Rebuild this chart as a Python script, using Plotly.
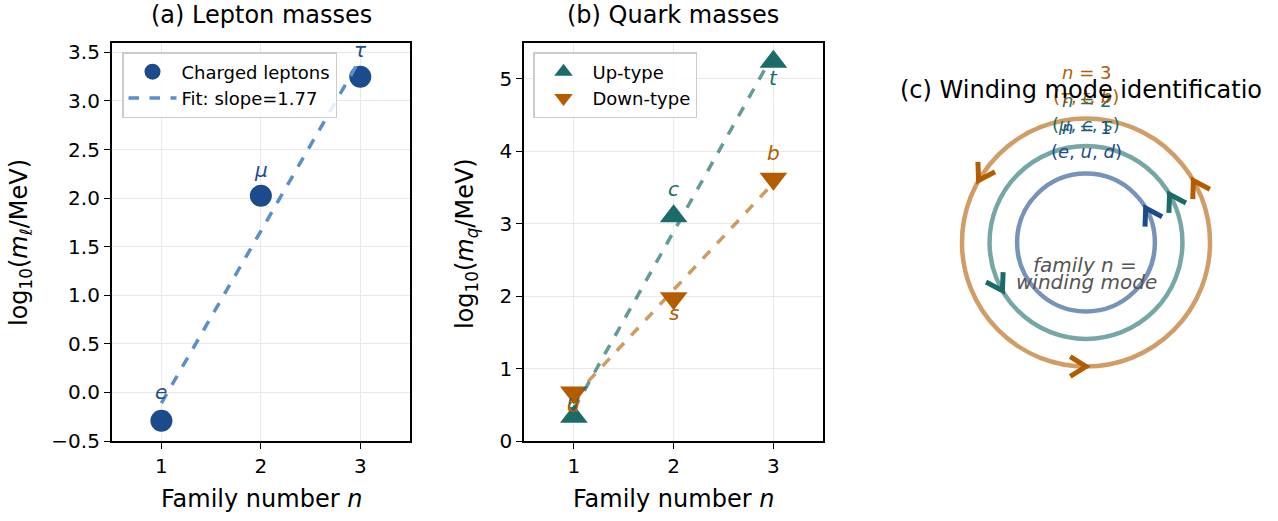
import numpy as np
import plotly.graph_objects as go

W, H = 1278, 521

# ---------------- data ----------------
families = [1, 2, 3]
lepton_log_mass = [-0.291, 2.024, 3.250]
lepton_labels = ["e", "μ", "τ"]
lepton_label_offsets = [0.30, 0.27, 0.27]

up_log_mass = [0.334, 3.104, 5.237]
up_labels = ["u", "c", "t"]
up_label_offsets = [0.20, 0.37, -0.22]

down_log_mass = [0.669, 1.970, 3.621]
down_labels = ["d", "s", "b"]
down_label_offsets = [-0.17, -0.20, 0.36]

winding_numbers = [1, 2, 3]
winding_radii = [1.0, 1.4, 1.8]
winding_particles = ["(<i>e</i>, <i>u</i>, <i>d</i>)",
                     "(<i>μ</i>, <i>c</i>, <i>s</i>)",
                     "(<i>τ</i>, <i>t</i>, <i>b</i>)"]
arrow_start_deg = 30.0

# ---------------- style ----------------
FONT = "DejaVu Sans"
BLUE = "#1c4b8c"
TEAL = "#1b6b69"
ORANGE = "#b35c00"
FIT_BLUE = "#5b8fcc"
FIT_TEAL = "rgba(27,107,105,0.68)"
FIT_ORANGE = "rgba(179,92,0,0.62)"
RING_COLORS = ["rgba(28,75,140,0.6)", "rgba(27,107,105,0.6)", "rgba(179,92,0,0.6)"]
ARROW_COLORS = [BLUE, TEAL, ORANGE]

# panel (c) geometry in pixels
CX, CY = 1086, 242.5
HALF = 150
RANGE_C = 2.177
PX_PER_UNIT = HALF / RANGE_C


def px(x):
    return x / W


def py(y):
    return 1 - y / H


fig = go.Figure()

# ---------------- panel (a) ----------------
fig.add_trace(go.Scatter(
    x=families, y=lepton_log_mass, mode="markers", name="Charged leptons",
    marker=dict(symbol="circle", size=22, color=BLUE),
    xaxis="x", yaxis="y", legend="legend"))
sl, ic = np.polyfit(families, lepton_log_mass, 1)
fx = np.array([families[0], families[-1]], dtype=float)
fig.add_trace(go.Scatter(
    x=fx, y=sl * fx + ic, mode="lines", name=f"Fit: slope={sl:.2f}",
    line=dict(color=FIT_BLUE, width=3.5, dash="dash"),
    xaxis="x", yaxis="y", legend="legend"))

# ---------------- panel (b) ----------------
fig.add_trace(go.Scatter(
    x=families, y=up_log_mass, mode="markers", name="Up-type",
    marker=dict(symbol="triangle-up", size=24, color=TEAL),
    xaxis="x2", yaxis="y2", legend="legend2"))
fig.add_trace(go.Scatter(
    x=families, y=down_log_mass, mode="markers", name="Down-type",
    marker=dict(symbol="triangle-down", size=24, color=ORANGE),
    xaxis="x2", yaxis="y2", legend="legend2"))
su, iu = np.polyfit(families, up_log_mass, 1)
sd, idn = np.polyfit(families, down_log_mass, 1)
fig.add_trace(go.Scatter(
    x=fx, y=su * fx + iu, mode="lines", showlegend=False,
    line=dict(color=FIT_TEAL, width=3.5, dash="dash"), xaxis="x2", yaxis="y2"))
fig.add_trace(go.Scatter(
    x=fx, y=sd * fx + idn, mode="lines", showlegend=False,
    line=dict(color=FIT_ORANGE, width=3.5, dash="dash"), xaxis="x2", yaxis="y2"))

# ---------------- panel (c) ----------------
shapes = []
for r, col in zip(winding_radii, RING_COLORS):
    shapes.append(dict(type="circle", xref="x3", yref="y3", x0=-r, x1=r, y0=-r, y1=r,
                       line=dict(color=col, width=4.5), layer="below"))

wing_len = 0.27
wing_ang = np.deg2rad(32)
for n, r, col in zip(winding_numbers, winding_radii, ARROW_COLORS):
    xs, ys = [], []
    for k in range(n):
        th = np.deg2rad(arrow_start_deg + 360.0 * k / n)
        tip = np.array([r * np.cos(th), r * np.sin(th)])
        t = np.array([-np.sin(th), np.cos(th)])
        for sgn in (1, -1):
            c, s = np.cos(sgn * wing_ang), np.sin(sgn * wing_ang)
            back = -np.array([c * t[0] - s * t[1], s * t[0] + c * t[1]])
            w = tip + wing_len * back
            if sgn == 1:
                xs += [w[0], tip[0]]
                ys += [w[1], tip[1]]
            else:
                xs += [w[0], None]
                ys += [w[1], None]
    fig.add_trace(go.Scatter(x=xs, y=ys, mode="lines", showlegend=False,
                             line=dict(color=col, width=5), xaxis="x3", yaxis="y3"))

annotations = []


def ann(x, y, text, size, color, xref="paper", yref="paper", **kw):
    d = dict(x=x, y=y, xref=xref, yref=yref, text=text, showarrow=False,
             xanchor=kw.pop("xanchor", "center"), yanchor=kw.pop("yanchor", "middle"),
             font=dict(size=size, color=color, family=FONT))
    d.update(kw)
    annotations.append(d)


# point labels
for xv, yv, lab, off in zip(families, lepton_log_mass, lepton_labels, lepton_label_offsets):
    ann(xv, yv + off, f"<i>{lab}</i>", 20, BLUE, xref="x", yref="y")
for xv, yv, lab, off in zip(families, up_log_mass, up_labels, up_label_offsets):
    ann(xv, yv + off, f"<i>{lab}</i>", 20, TEAL, xref="x2", yref="y2")
for xv, yv, lab, off in zip(families, down_log_mass, down_labels, down_label_offsets):
    ann(xv, yv + off, f"<i>{lab}</i>", 20, ORANGE, xref="x2", yref="y2")

# ring labels (placed just above each ring's top)
for n, r, parts, col in zip(winding_numbers, winding_radii, winding_particles, ARROW_COLORS):
    top_px = CY - r * PX_PER_UNIT
    ann(px(CX), py(top_px - 46), f"<i>n</i> = {n}", 18, col)
    ann(px(CX), py(top_px - 22), parts, 18, col)

ann(px(1085), py(265), "<i>family n =</i>", 20, "#555555")
ann(px(1086), py(282), "<i>winding mode</i>", 20, "#555555")

# titles and axis labels
ann(px(261), py(15), "(a) Lepton masses", 24, "black")
ann(px(673), py(15), "(b) Quark masses", 24, "black")
ann(px(898), py(90), "(c) Winding mode identificatio", 24, "black", xanchor="left")
ann(px(261), py(499), "Family number <i>n</i>", 24, "black")
ann(px(673), py(499), "Family number <i>n</i>", 24, "black")
ann(px(20), py(243), "log<sub>10</sub>(<i>m</i><sub><i>ℓ</i></sub>/MeV)", 24, "black",
    textangle=-90)
ann(px(466), py(244), "log<sub>10</sub>(<i>m</i><sub><i>q</i></sub>/MeV)", 24, "black",
    textangle=-90)

axis_common = dict(showline=True, mirror=True, linecolor="black", linewidth=1.6,
                   ticks="outside", ticklen=6, tickwidth=1.4, tickcolor="black",
                   showgrid=True, gridcolor="#e9e9e9", gridwidth=1, zeroline=False,
                   automargin=False,
                   tickfont=dict(size=20, color="black", family=FONT))

ytop, ybot = py(42.7), py(441)

legend_common = dict(xanchor="left", yanchor="top", itemwidth=48,
                     bgcolor="rgba(255,255,255,0.85)", bordercolor="#cccccc", borderwidth=1.5,
                     font=dict(size=18, color="black", family=FONT))

fig.update_layout(
    width=W, height=H, margin=dict(l=0, r=0, t=0, b=0, pad=0, autoexpand=False),
    paper_bgcolor="white", plot_bgcolor="white",
    font=dict(family=FONT, color="black"),
    xaxis=dict(domain=[px(111.7), px(410)], range=[0.5, 3.5],
               tickvals=[1, 2, 3], anchor="y", **axis_common),
    yaxis=dict(domain=[ybot, ytop], range=[-0.5, 3.6],
               tickvals=[-0.5, 0, 0.5, 1, 1.5, 2, 2.5, 3, 3.5], tickformat=".1f",
               anchor="x", **axis_common),
    xaxis2=dict(domain=[px(524), px(823.3)], range=[0.5, 3.5],
                tickvals=[1, 2, 3], anchor="y2", **axis_common),
    yaxis2=dict(domain=[ybot, ytop], range=[0, 5.5],
                tickvals=[0, 1, 2, 3, 4, 5], anchor="x2", **axis_common),
    xaxis3=dict(domain=[px(CX - HALF), px(CX + HALF)], range=[-RANGE_C, RANGE_C],
                visible=False, anchor="y3", automargin=False),
    yaxis3=dict(domain=[py(CY + HALF), py(CY - HALF)], range=[-RANGE_C, RANGE_C],
                visible=False, anchor="x3", automargin=False),
    legend=dict(x=px(122), y=py(52), **legend_common),
    legend2=dict(x=px(533), y=py(52), **legend_common),
    shapes=shapes,
    annotations=annotations,
)

fig.write_html("out.html")
